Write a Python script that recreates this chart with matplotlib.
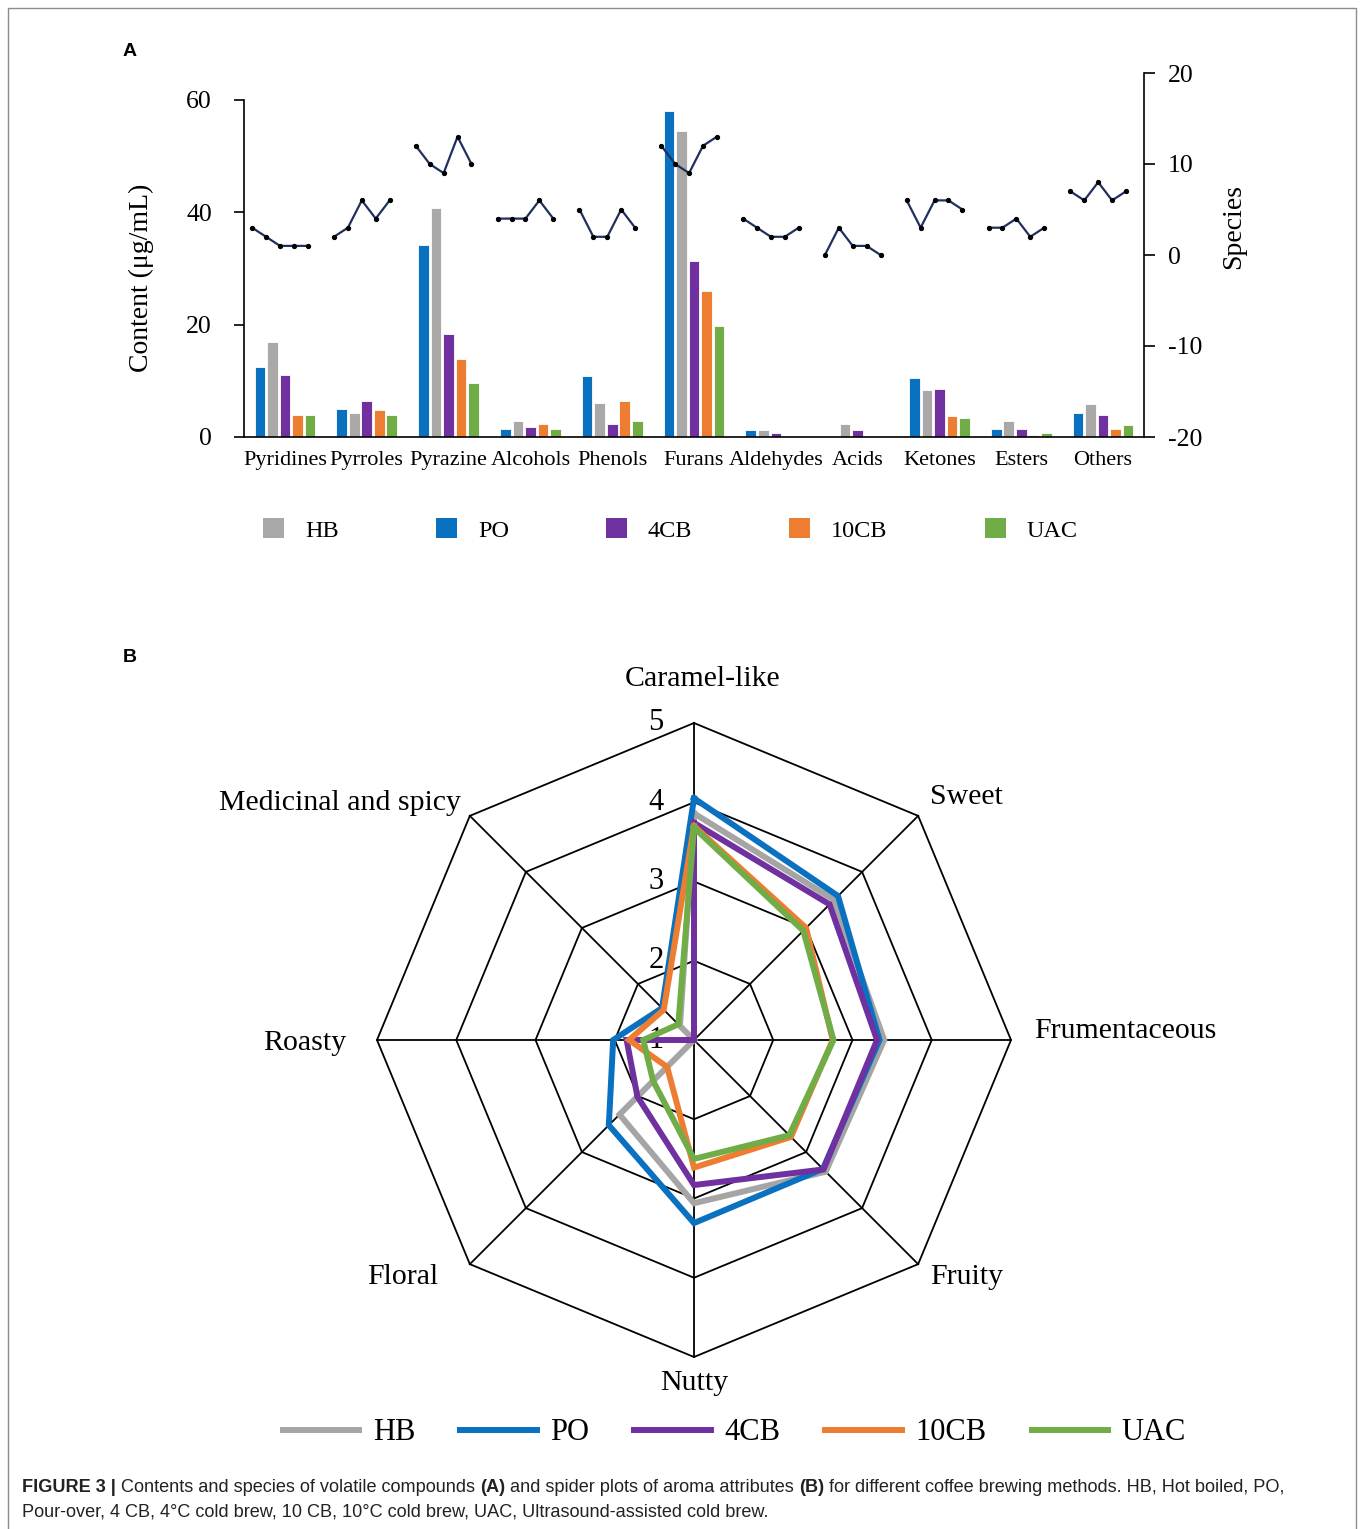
import numpy as np
import matplotlib
matplotlib.use("Agg")
import matplotlib.pyplot as plt
from matplotlib.patches import Patch, Rectangle
from matplotlib.lines import Line2D

plt.rcParams['font.family'] = ['Liberation Serif', 'DejaVu Serif']
plt.rcParams['axes.unicode_minus'] = False

# ---- Panel A data ----
groups = ["Pyridines", "Pyrroles", "Pyrazine", "Alcohols", "Phenols", "Furans",
          "Aldehydes", "Acids", "Ketones", "Esters", "Others"]
methods = ["HB", "PO", "4CB", "10CB", "UAC"]
bar_order = ["PO", "HB", "4CB", "10CB", "UAC"]

content_po = [12.4, 5.0, 34.1, 1.5, 10.8, 58.0, 1.2, 0.0, 10.5, 1.5, 4.2]
content_hb = [17.0, 4.2, 40.7, 2.9, 6.1, 54.5, 1.2, 2.4, 8.3, 2.9, 5.8]
content_4cb = [11.0, 6.4, 18.3, 1.8, 2.4, 31.4, 0.7, 1.2, 8.6, 1.5, 4.0]
content_10cb = [4.0, 4.8, 13.8, 2.4, 6.4, 26.0, 0.0, 0.0, 3.7, 0.4, 1.5]
content_uac = [4.0, 4.0, 9.6, 1.5, 2.9, 19.7, 0.0, 0.0, 3.4, 0.7, 2.1]

# species count per group (5 brewing methods each)
species = [
    [3, 2, 1, 1, 1],
    [2, 3, 6, 4, 6],
    [12, 10, 9, 13, 10],
    [4, 4, 4, 6, 4],
    [5, 2, 2, 5, 3],
    [12, 10, 9, 12, 13],
    [4, 3, 2, 2, 3],
    [0, 3, 1, 1, 0],
    [6, 3, 6, 6, 5],
    [3, 3, 4, 2, 3],
    [7, 6, 8, 6, 7],
]

# ---- Panel B data ----
attributes = ["Caramel-like", "Sweet", "Frumentaceous", "Fruity", "Nutty",
              "Floral", "Roasty", "Medicinal and spicy"]
score_hb = [3.86, 3.50, 3.40, 3.35, 3.06, 2.33, 1.00, 1.25]
score_po = [4.05, 3.57, 3.34, 3.30, 3.31, 2.52, 2.02, 1.57]
score_4cb = [3.74, 3.42, 3.31, 3.31, 2.83, 2.01, 1.85, 1.00]
score_10cb = [3.70, 3.00, 2.75, 2.73, 2.61, 1.48, 1.82, 1.54]
score_uac = [3.68, 2.95, 2.76, 2.70, 2.50, 1.73, 1.64, 1.28]

bar_colors = {"HB": "#ABA8A8", "PO": "#0A70C0", "4CB": "#7030A0",
              "10CB": "#ED7D31", "UAC": "#70AD47"}
line_colors = {"HB": "#A5A5A5", "PO": "#0A70C0", "4CB": "#7030A0",
               "10CB": "#ED7D31", "UAC": "#70AD47"}
contents = {"PO": content_po, "HB": content_hb, "4CB": content_4cb,
            "10CB": content_10cb, "UAC": content_uac}
scores = {"HB": score_hb, "PO": score_po, "4CB": score_4cb,
          "10CB": score_10cb, "UAC": score_uac}

W, H = 1360, 1529
fig = plt.figure(figsize=(W / 100, H / 100), dpi=100)

# outer frame
fig.add_artist(Rectangle((8 / W, -0.01), (1356 - 8) / W, 1.01 - 8 / H,
                         transform=fig.transFigure, fill=False,
                         edgecolor='#8c8c8c', linewidth=1))

# ================= Panel A =================
ax = fig.add_axes([244 / W, 1 - 437 / H, 900 / W, 364 / H])
x = np.arange(len(groups))
step, width = 0.153, 0.13
for k, m in enumerate(bar_order):
    ax.bar(x + (k - 2) * step, contents[m], width, color=bar_colors[m],
           edgecolor='white', linewidth=0.6, zorder=2)

ax.set_xlim(-0.5, 10.5)
ax.set_ylim(0, 64.8)
ax.set_yticks([0, 20, 40, 60])
ax.spines['left'].set_bounds(0, 60)
for s in ['top', 'right']:
    ax.spines[s].set_visible(False)
for s in ['left', 'bottom']:
    ax.spines[s].set_linewidth(1.2)
ax.tick_params(axis='y', direction='out', length=7, width=1.2, pad=16, labelsize=18.5)
ax.set_xticks(x, groups)
ax.tick_params(axis='x', length=0, pad=10, labelsize=16)
ax.set_ylabel("Content (μg/mL)", fontsize=20)
ax.yaxis.set_label_coords(-0.1, 0.437)

ax2 = ax.twinx()
ax2.set_ylim(-20, 20)
ax2.set_yticks([-20, -10, 0, 10, 20])
for s in ['top', 'left', 'bottom']:
    ax2.spines[s].set_visible(False)
ax2.spines['right'].set_linewidth(1.2)
ax2.tick_params(axis='y', direction='out', length=8, width=1.2, pad=9, labelsize=18.5)
ax2.set_ylabel("Species", fontsize=20)
ax2.yaxis.set_label_coords(1.086, 0.577)

offsets = np.arange(5) * 0.17 - 0.4
for i, vals in enumerate(species):
    ax2.plot(i + offsets, vals, color='#1F2F5F', linewidth=1.6, marker='o',
             markersize=2.8, markerfacecolor='black', markeredgecolor='black', zorder=3)

fig.legend([Patch(facecolor=bar_colors[m]) for m in methods], methods,
           loc='center', bbox_to_anchor=(0.493, 1 - 530 / H), ncol=5, frameon=False,
           fontsize=17.5, handlelength=0.86, handleheight=0.86, handletextpad=0.86,
           columnspacing=4.0)

fig.text(130 / W, 1 - 51 / H, "A", family='Liberation Sans', fontweight='bold',
         fontsize=14, ha='center', va='center')
fig.text(130 / W, 1 - 658 / H, "B", family='Liberation Sans', fontweight='bold',
         fontsize=14, ha='center', va='center')

# ================= Panel B =================
R = 317
rax = fig.add_axes([(694 - R) / W, 1 - (1040 + R) / H, 2 * R / W, 2 * R / H],
                   projection='polar')
rax.set_theta_zero_location('N')
rax.set_theta_direction(-1)
rax.set_ylim(1, 5)
rax.grid(False)
rax.set_xticks([])
rax.set_yticks([])
rax.spines['polar'].set_visible(False)
rax.patch.set_visible(False)

n = len(attributes)
angles = np.arange(n) * 2 * np.pi / n
closed = np.append(angles, angles[0])

for level in [2, 3, 4, 5]:
    rax.plot(closed, [level] * (n + 1), color='black', linewidth=1.3, clip_on=False, zorder=1)
for a in angles:
    rax.plot([a, a], [1, 5], color='black', linewidth=1.3, clip_on=False, zorder=1)

for level in [1, 2, 3, 4, 5]:
    rax.annotate(str(level), xy=(0, level), xytext=(-22, 0), textcoords='offset points',
                 ha='right', va='center', fontsize=22, annotation_clip=False)

for m in methods:
    vals = scores[m]
    rax.plot(closed, vals + vals[:1], color=line_colors[m], linewidth=4.3,
             clip_on=False, zorder=3, solid_joinstyle='miter')

label_pos = [
    ((6.5, 32), 'center', 'center'),
    ((8.6, 13.7), 'left', 'center'),
    ((17, 6.5), 'left', 'center'),
    ((8.6, -9.4), 'left', 'center'),
    ((0, -19), 'center', 'center'),
    ((-23, -9.4), 'right', 'center'),
    ((-22.3, -2), 'right', 'center'),
    ((-6.5, 9.4), 'right', 'center'),
]
for a, name, (off, ha, va) in zip(angles, attributes, label_pos):
    rax.annotate(name, xy=(a, 5), xytext=off, textcoords='offset points',
                 ha=ha, va=va, fontsize=21.5, annotation_clip=False)

fig.legend([Line2D([], [], color=line_colors[m], linewidth=4.3) for m in methods], methods,
           loc='center', bbox_to_anchor=(0.540, 1 - 1433 / H), ncol=5, frameon=False,
           fontsize=22, handlelength=2.5, handletextpad=0.45, columnspacing=1.47)

# ================= Caption =================
cap_kw = dict(family='Liberation Sans', fontsize=13.1, color='#222222')
line1 = [("FIGURE 3 |", 'bold'), (" Contents and species of volatile compounds ", 'normal'),
         ("(A)", 'bold'), (" and spider plots of aroma attributes ", 'normal'),
         ("(B)", 'bold'), (" for different coffee brewing methods. HB, Hot boiled, PO,", 'normal')]
t = fig.text(22 / W, 1 - 1488 / H, line1[0][0], fontweight=line1[0][1], va='center', **cap_kw)
for s, w in line1[1:]:
    t = fig.add_artist(plt.Annotation(s, xy=(1, 0.5), xycoords=t, va='center',
                                      fontweight=w, **cap_kw))
fig.text(22 / W, 1 - 1512 / H,
         "Pour-over, 4 CB, 4°C cold brew, 10 CB, 10°C cold brew, UAC, Ultrasound-assisted cold brew.",
         va='center', **cap_kw)

fig.savefig("out.png", dpi=100)
